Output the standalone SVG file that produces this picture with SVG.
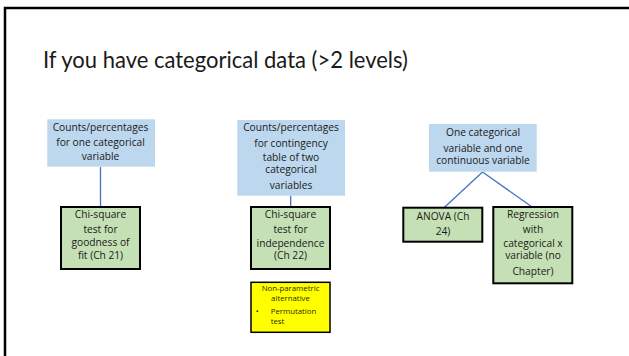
<svg xmlns="http://www.w3.org/2000/svg" width="629" height="356" viewBox="0 0 629 356">
<style>
  .t { font-family: "Open Sans", "Liberation Sans", sans-serif; font-size: 10.2px; fill: #1a1a1a; text-anchor: middle; }
  .blue { fill: #BDD7EE; stroke: none; }
  .green { fill: #C5E0B4; stroke: #000; stroke-width: 2; }
  .yellow { fill: #FFFF00; stroke: #000; stroke-width: 1.5; }
  .small { font-family: "Open Sans", "Liberation Sans", sans-serif; font-size: 7.8px; fill: #2a2a00; }
  .conn { stroke: #4472C4; stroke-width: 1.3; fill: none; }
</style>
<rect x="0" y="0" width="629" height="356" fill="#fff"/>
<path d="M5,356 V8 H629" fill="none" stroke="#000" stroke-width="2.5"/>
<text x="43" y="67.5" font-family="Lato, 'Open Sans', sans-serif" font-size="24" fill="#1a1a1a" textLength="365" lengthAdjust="spacingAndGlyphs">If you have categorical data (&gt;2 levels)</text>

<g id="connectors">
  <line class="conn" x1="100.5" y1="167" x2="100.5" y2="207"/>
  <line class="conn" x1="290.7" y1="195.7" x2="290.7" y2="207"/>
  <line class="conn" x1="482.5" y1="172" x2="444" y2="207.7"/>
  <line class="conn" x1="482.5" y1="172" x2="532.5" y2="207.3"/>
</g>

<g id="n1">
  <rect class="blue" x="47.3" y="119.3" width="107.7" height="47.4"/>
  <text class="t" x="100.5" y="130.8">Counts/percentages</text>
  <text class="t" x="100.5" y="146.3">for one categorical</text>
  <text class="t" x="100.5" y="160.3">variable</text>
</g>
<g id="n2">
  <rect class="green" x="61" y="207" width="79" height="62"/>
  <text class="t" x="100.5" y="217.8">Chi-square</text>
  <text class="t" x="100.5" y="232.5">test for</text>
  <text class="t" x="100.5" y="246.3">goodness of</text>
  <text class="t" x="100.5" y="259.2">fit (Ch 21)</text>
</g>

<g id="n3">
  <rect class="blue" x="237.3" y="120" width="107.7" height="75.7"/>
  <text class="t" x="291" y="130.7">Counts/percentages</text>
  <text class="t" x="291" y="146.7">for contingency</text>
  <text class="t" x="291" y="160.5">table of two</text>
  <text class="t" x="291" y="173">categorical</text>
  <text class="t" x="291" y="188.5">variables</text>
</g>
<g id="n4">
  <rect class="green" x="251" y="207" width="79" height="62"/>
  <text class="t" x="290.5" y="218.3">Chi-square</text>
  <text class="t" x="290.5" y="233.3">test for</text>
  <text class="t" x="290.5" y="246.7">independence</text>
  <text class="t" x="290.5" y="259.3">(Ch 22)</text>
</g>
<g id="n5">
  <rect class="yellow" x="251" y="282.3" width="79" height="50"/>
  <text class="small" x="290.5" y="291.2" text-anchor="middle">Non-parametric</text>
  <text class="small" x="290.5" y="301" text-anchor="middle">alternative</text>
  <text class="small" x="257.3" y="314.3" text-anchor="middle">•</text>
  <text class="small" x="270.7" y="314.3">Permutation</text>
  <text class="small" x="270.7" y="324">test</text>
</g>

<g id="n6">
  <rect class="blue" x="429" y="124" width="107.7" height="47.7"/>
  <text class="t" x="483" y="136">One categorical</text>
  <text class="t" x="483" y="151.5">variable and one</text>
  <text class="t" x="483" y="164.3">continuous variable</text>
</g>
<g id="n7">
  <rect class="green" x="403.3" y="207.7" width="79" height="34"/>
  <text class="t" x="443" y="220">ANOVA (Ch</text>
  <text class="t" x="443" y="235">24)</text>
</g>
<g id="n8">
  <rect class="green" x="493.3" y="207" width="79" height="76.3"/>
  <text class="t" x="533" y="217.5">Regression</text>
  <text class="t" x="533" y="232.5">with</text>
  <text class="t" x="533" y="246.7">categorical x</text>
  <text class="t" x="533" y="259.3">variable (no</text>
  <text class="t" x="533" y="275">Chapter)</text>
</g>
</svg>
